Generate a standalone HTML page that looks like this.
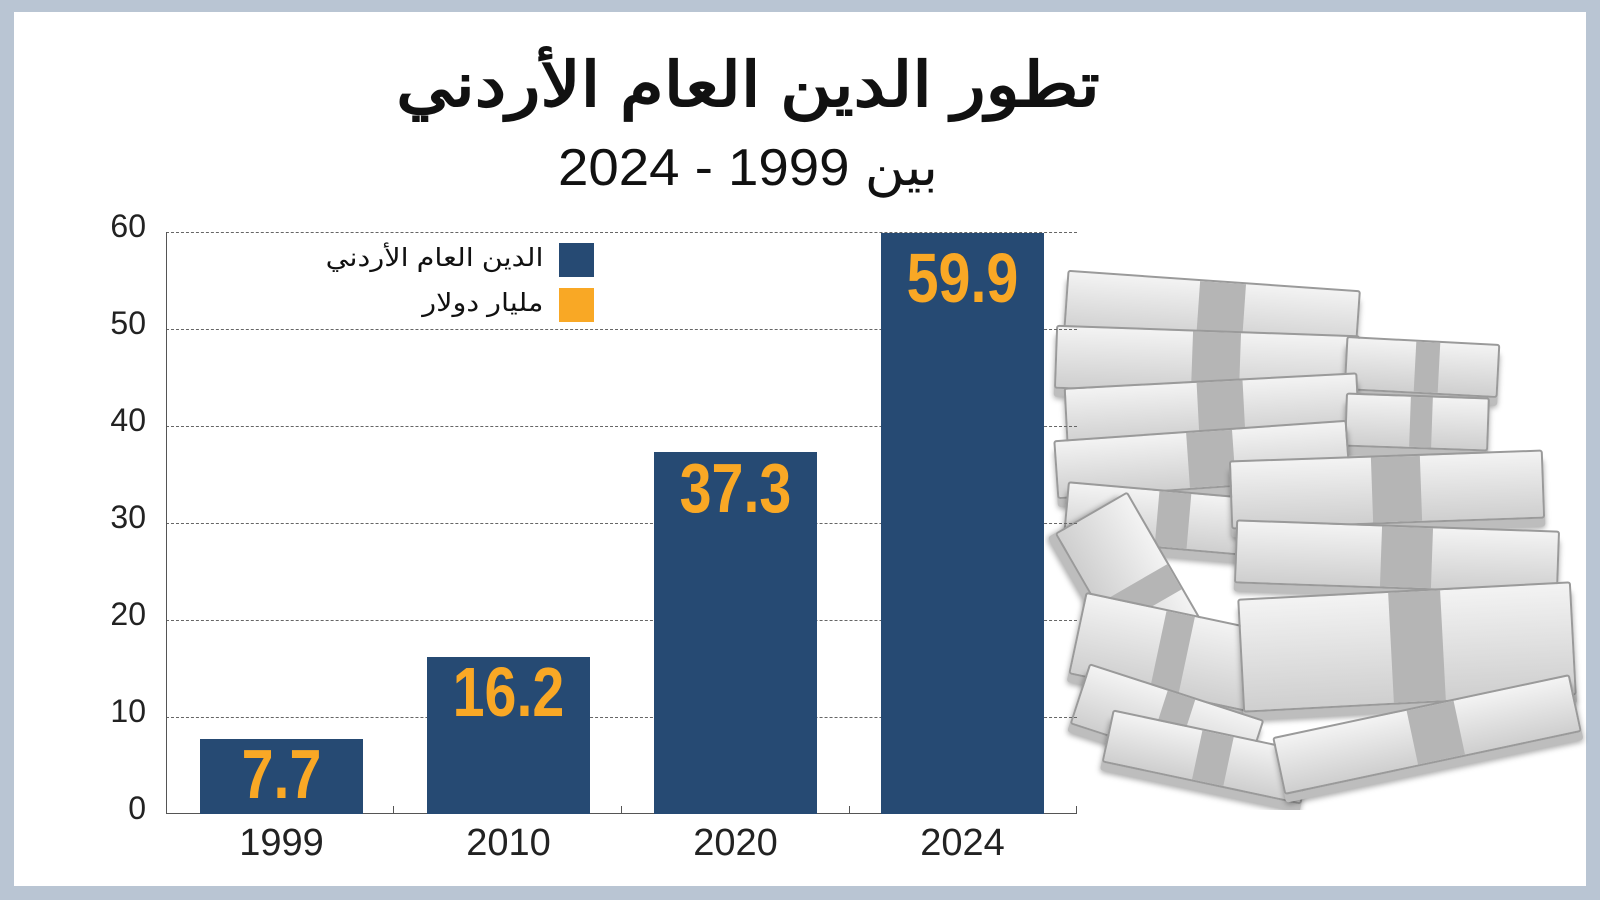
<!DOCTYPE html>
<html><head><meta charset="utf-8"><style>
body{margin:0;width:1600px;height:900px;background:#b9c5d3;overflow:hidden;font-family:"Liberation Sans","Noto Sans CJK SC",sans-serif}
#w{position:absolute;left:14px;top:12px;width:1572px;height:874px;background:#fff}
.a{position:absolute}
.t{position:absolute;white-space:nowrap}
.yl{position:absolute;width:80px;text-align:right;font-size:32px;color:#222;left:66px}
.grid{position:absolute;left:166px;width:911px;border-top:1px dashed #666}
.bar{position:absolute;background:#264a73;width:163px}
.v{position:absolute;width:163px;text-align:center;color:#f9a825;font-family:"Liberation Sans Narrow","Liberation Sans",sans-serif;font-weight:bold;font-size:70px;transform:scaleX(0.82)}
.xl{position:absolute;width:163px;text-align:center;font-size:38px;color:#222;top:822px}
.bill{position:absolute;background:linear-gradient(#f3f3f3,#cfcfcf);border:2px solid #9a9a9a;border-radius:3px;box-shadow:0 8px 0 #bdbdbd,0 10px 6px rgba(0,0,0,.35)}
.bill:after{content:"";position:absolute;left:45%;top:0;width:16%;height:100%;background:#b5b5b5}
</style></head><body>
<div id="w"></div>
<div class="t" style="left:0;width:1496px;text-align:center;top:48px;font-size:62px;font-weight:bold;color:#111;transform:scaleX(1.14)">تطور الدين العام الأردني</div>
<div class="t" style="left:0;width:1496px;text-align:center;top:138px;font-size:52px;color:#111;transform:scaleX(1.05)">بين 1999 - 2024</div>

<!-- money -->
<div class="a" style="left:1045px;top:250px;width:555px;height:560px;overflow:hidden">
<div class="bill" style="left:20px;top:30px;width:290px;height:60px;transform:rotate(4deg)"></div>
<div class="bill" style="left:10px;top:80px;width:300px;height:60px;transform:rotate(2deg)"></div>
<div class="bill" style="left:300px;top:90px;width:150px;height:50px;transform:rotate(3deg)"></div>
<div class="bill" style="left:20px;top:130px;width:290px;height:55px;transform:rotate(-3deg)"></div>
<div class="bill" style="left:300px;top:145px;width:140px;height:50px;transform:rotate(2deg)"></div>
<div class="bill" style="left:10px;top:180px;width:290px;height:55px;transform:rotate(-4deg)"></div>
<div class="bill" style="left:20px;top:240px;width:200px;height:55px;transform:rotate(5deg)"></div>
<div class="bill" style="left:185px;top:205px;width:310px;height:65px;transform:rotate(-2deg)"></div>
<div class="bill" style="left:190px;top:275px;width:320px;height:60px;transform:rotate(2deg)"></div>
<div class="bill" style="left:0px;top:300px;width:180px;height:80px;transform:rotate(60deg)"></div>
<div class="bill" style="left:30px;top:360px;width:180px;height:80px;transform:rotate(12deg)"></div>
<div class="bill" style="left:195px;top:340px;width:330px;height:110px;transform:rotate(-3deg)"></div>
<div class="bill" style="left:30px;top:440px;width:180px;height:60px;transform:rotate(18deg)"></div>
<div class="bill" style="left:60px;top:480px;width:200px;height:50px;transform:rotate(12deg)"></div>
<div class="bill" style="left:230px;top:455px;width:300px;height:55px;transform:rotate(-12deg)"></div>
</div>

<div class="grid" style="top:232px"></div>
<div class="grid" style="top:329px"></div>
<div class="grid" style="top:426px"></div>
<div class="grid" style="top:523px"></div>
<div class="grid" style="top:620px"></div>
<div class="grid" style="top:717px"></div>
<div class="yl" style="top:208px">60</div>
<div class="yl" style="top:305px">50</div>
<div class="yl" style="top:402px">40</div>
<div class="yl" style="top:499px">30</div>
<div class="yl" style="top:596px">20</div>
<div class="yl" style="top:693px">10</div>
<div class="yl" style="top:790px">0</div>
<div class="a" style="left:166px;top:232px;width:1px;height:582px;background:#555"></div>
<div class="a" style="left:166px;top:813px;width:911px;height:1px;background:#555"></div>
<div class="a" style="left:393px;top:806px;width:1px;height:8px;background:#555"></div>
<div class="a" style="left:621px;top:806px;width:1px;height:8px;background:#555"></div>
<div class="a" style="left:849px;top:806px;width:1px;height:8px;background:#555"></div>
<div class="a" style="left:1076px;top:806px;width:1px;height:8px;background:#555"></div>

<div class="bar" style="left:200px;top:739px;height:75px"></div>
<div class="bar" style="left:427px;top:657px;height:157px"></div>
<div class="bar" style="left:654px;top:452px;height:362px"></div>
<div class="bar" style="left:881px;top:233px;height:581px"></div>
<div class="v" style="left:200px;top:734px">7.7</div>
<div class="v" style="left:427px;top:652px">16.2</div>
<div class="v" style="left:654px;top:448px">37.3</div>
<div class="v" style="left:881px;top:238px">59.9</div>
<div class="xl" style="left:200px">1999</div>
<div class="xl" style="left:427px">2010</div>
<div class="xl" style="left:654px">2020</div>
<div class="xl" style="left:881px">2024</div>

<div class="a" style="left:559px;top:243px;width:35px;height:34px;background:#264a73"></div>
<div class="a" style="left:559px;top:288px;width:35px;height:34px;background:#f9a825"></div>
<div class="t" style="right:1057px;top:243px;font-size:25px;color:#111;transform:scaleX(1.15);transform-origin:right">الدين العام الأردني</div>
<div class="t" style="right:1057px;top:288px;font-size:25px;color:#111;transform:scaleX(1.15);transform-origin:right">مليار دولار</div>
</body></html>
